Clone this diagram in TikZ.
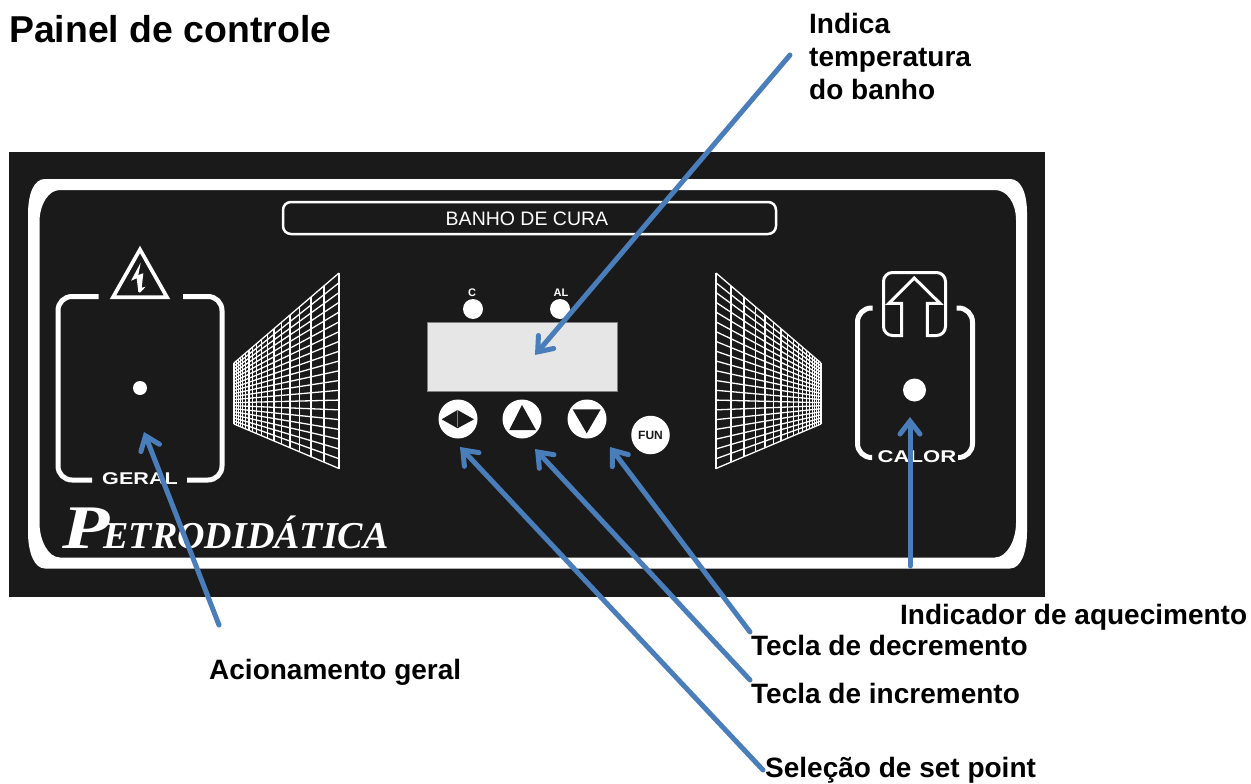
\documentclass[tikz,border=0pt]{standalone}
\usepackage{fontspec}
\setmainfont{Liberation Sans}
\newfontfamily\logofont{Liberation Serif}
\usetikzlibrary{arrows.meta}
\definecolor{panelblack}{HTML}{1A1A1A}
\definecolor{displaygray}{HTML}{E6E6E6}
\definecolor{pointerblue}{HTML}{4A7EBB}

\begin{document}
\begin{tikzpicture}[x=1pt,y=-1pt,inner sep=0pt,
                    >={Straight Barb[length=13pt,width=20pt,line width=5pt,line cap=round]}]
\tikzstyle{heading}=[anchor=base west,font=\bfseries\fontsize{37.4}{40}\selectfont]
\tikzstyle{caption}=[anchor=base west,font=\bfseries\fontsize{28}{33}\selectfont]
\tikzstyle{whiteline}=[draw=white,line cap=butt,rounded corners=14pt,line width=5pt]
\tikzstyle{thinwhite}=[draw=white,line width=1.3pt]
\tikzstyle{led}=[circle,fill=white,text=panelblack]
\tikzstyle{pointer}=[->,draw=pointerblue,line width=5pt,line cap=round,
                     preaction={draw=black,opacity=.18,transform canvas={shift={(1,2)}}}]
\useasboundingbox (0,0) rectangle (1251,784);
% panel
\fill[panelblack] (9,152) rectangle (1045,597);
\fill[white,even odd rule] (45,179) -- (1010,179) .. controls (1021,179) and (1027,193) .. (1027,213)
  -- (1027,532) .. controls (1027,552) and (1021,568.5) .. (1010,568.5)
  -- (45,568.5) .. controls (34,568.5) and (28,552) .. (28,532)
  -- (28,215) .. controls (28,193) and (34,179) .. (45,179) -- cycle
  (60,190) -- (995,190) .. controls (1007,190) and (1016,203) .. (1016,220)
  -- (1016,523) .. controls (1016,540) and (1007,557.5) .. (995,557.5)
  -- (60,557.5) .. controls (48,557.5) and (39.5,540) .. (39.5,523)
  -- (39.5,222) .. controls (39.5,205) and (48,190) .. (60,190) -- cycle;
\draw[draw=white,line width=2.5pt,rounded corners=8pt] (283,202) rectangle (776,234);
\node (title) at (527,219) [white,font=\fontsize{19.5}{22}\selectfont] {BANHO DE CURA};
% grids at both sides
\foreach \o/\s in {339/-1,716/1} {
  \draw[thinwhite] (\o,273) -- (\o,468.5);
  \draw[thinwhite] (\o+\s*105,363) -- (\o+\s*105,424);
  \foreach \k in {1,...,17} {
    \pgfmathsetmacro{\d}{115*(1-0.87^\k)}
    \draw[thinwhite] (\o+\s*\d,273+\d*90/105) -- (\o+\s*\d,468.5-\d*44.5/105);
  }
  \foreach \k in {0,...,20} {
    \draw[thinwhite] (\o,273+\k*195.5/20) -- (\o+\s*105,363+\k*61/20);
  }
}
% main switch
\draw[whiteline] (98.5,296.5) -- (58,296.5) -- (58,480) -- (92,480);
\draw[whiteline] (183,296.5) -- (222,296.5) -- (222,480) -- (187,480);
\draw[draw=white,line width=3.7pt,line join=miter] (140,249.5) -- (113,297.2) -- (167,297.2) -- cycle;
\fill[white] (140.7,262.7) -- (131,280.7) -- (136.7,278.3) -- (138.3,291.7) -- (140,292.7)
  -- (145.7,286.7) -- (141.7,287.7) -- (143.3,273.3) -- (138.3,275) -- cycle;
\node[led,minimum size=14pt] (geraldot) at (140,388) {};
\node (geral) at (140,479) [white,xscale=1.27,font=\bfseries\fontsize{17}{19}\selectfont] {GERAL};
% logo
\node (logo) at (62,548.5) [anchor=base west,white,font=\logofont\bfseries\itshape\fontsize{38}{40}\selectfont]
  {\fontsize{62}{66}\selectfont\scalebox{1.25}[1]{P}\hspace{-6pt}\fontsize{38}{40}\selectfont ETRODIDÁTICA};
% display and keys
\draw[fill=displaygray,draw=gray,line width=1pt] (427.5,322) rectangle (617.5,391.5);
\node[led,minimum size=20pt] (ledc) at (473,309) {};
\node[led,minimum size=20pt] (ledal) at (560,309) {};
\node (c) at (472,293) [white,font=\bfseries\fontsize{11}{12}\selectfont] {C};
\node (al) at (561,293) [white,font=\bfseries\fontsize{11}{12}\selectfont] {AL};
\node[led,minimum size=39pt] (keyset) at (458,419) {};
\node[led,minimum size=39pt] (keyinc) at (522,419) {};
\node[led,minimum size=39pt] (keydec) at (587,419) {};
\node[led,minimum size=38.5pt,font=\bfseries\fontsize{12}{13}\selectfont] (keyfun) at (650.5,435) {FUN};
\fill[panelblack] (441.7,419.3) -- (457.5,410) -- (474,419.3) -- (457.5,428.3) -- cycle;
\draw[gray,line width=1pt] (457.8,410) -- (457.8,427);
\fill[panelblack] (522,405) -- (509.3,430) -- (536,430) -- cycle;
\fill[panelblack] (572.7,409.3) -- (600.7,409.3) -- (586.7,433.3) -- cycle;
% heater
\draw[whiteline] (872.7,308) -- (857.5,308) -- (857.5,457.5) -- (872,457.5);
\draw[whiteline] (956.7,308) -- (972.5,308) -- (972.5,457.5) -- (958,457.5);
\draw[draw=white,line width=3pt,line join=miter]
  [rounded corners=9pt] (901.7,335.5) -- (883.5,335.5) -- (883.5,272.5) -- (945.5,272.5) -- (945.5,335.5)
  [sharp corners] -- (927.3,335.5) -- (927.3,303.3) -- (940,303.3) -- (914.3,278) -- (889,303.3)
  -- (901.7,303.3) -- cycle;
\node[led,minimum size=23pt] (calordot) at (914.5,390) {};
\node (calor) at (917,457) [white,xscale=1.3,font=\bfseries\fontsize{17}{19}\selectfont] {CALOR};
% texts
\node[heading] (painel) at (9,42.5) {Painel de controle};
\node[caption,anchor=north west,align=left] (banho) at (809,13.5) {Indica\\temperatura\\do banho};
\node[caption] (geraltxt) at (209,679) {Acionamento geral};
\node[caption] (aquec) at (900,624) {Indicador de aquecimento};
\node[caption] (decr) at (751,655) {Tecla de decremento};
\node[caption] (incr) at (751,703) {Tecla de incremento};
\node[caption] (setp) at (765,777) {Seleção de set point};
% pointers
\coordinate (a1) at (790,55);
\coordinate (a2) at (535,355);
\coordinate (b1) at (219,625);
\coordinate (b2) at (144,432);
\coordinate (c1) at (763,770);
\coordinate (c2) at (460,447);
\coordinate (d1) at (750,680);
\coordinate (d2) at (535,449);
\coordinate (e1) at (750,632);
\coordinate (e2) at (610,447);
\coordinate (f1) at (910,566);
\coordinate (f2) at (910,417);
\path (a1) edge [pointer] (a2)
      (b1) edge [pointer] (b2)
      (c1) edge [pointer] (c2)
      (d1) edge [pointer] (d2)
      (e1) edge [pointer] (e2)
      (f1) edge [pointer] (f2);
\end{tikzpicture}
\end{document}
